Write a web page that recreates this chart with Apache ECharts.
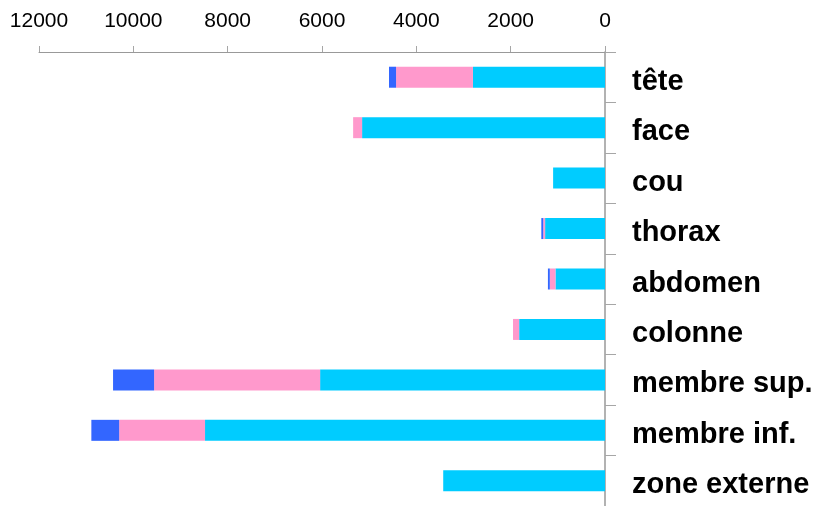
<!DOCTYPE html>
<html>
<head>
<meta charset="utf-8">
<script src="https://cdn.jsdelivr.net/npm/echarts@6/dist/echarts.min.js"></script>
<style>
  html, body { margin: 0; padding: 0; background: #fff; }
  #chart { width: 817px; height: 506px; }
</style>
</head>
<body>
<div id="chart"></div>
<script>
// Body regions, top to bottom
const categories = ['tête', 'face', 'cou', 'thorax', 'abdomen', 'colonne', 'membre sup.', 'membre inf.', 'zone externe'];

// Stacked segments, drawn from 0 outward (leftward)
const seriesCyan = [2800, 5150, 1100, 1270, 1050, 1820, 6040, 8480, 3430];
const seriesPink = [1630, 190, 0, 40, 120, 130, 3520, 1820, 0];
const seriesBlue = [150, 0, 0, 40, 40, 0, 870, 590, 0];

// Value axis ticks
const axisMin = 0;
const axisMax = 12000;
const axisStep = 2000;

const chart = echarts.init(document.getElementById('chart'), null, { renderer: 'canvas' });

const font = '"Liberation Sans", Arial, sans-serif';

function bar(name, data, color) {
  return {
    name: name,
    type: 'bar',
    stack: 'total',
    data: data,
    barWidth: 21,
    itemStyle: { color: color },
    emphasis: { disabled: true },
    silent: true
  };
}

chart.setOption({
  animation: false,
  grid: { left: 39, right: 212, top: 52, bottom: 0, containLabel: false },
  xAxis: {
    type: 'value',
    position: 'top',
    inverse: true,
    min: axisMin,
    max: axisMax,
    interval: axisStep,
    splitLine: { show: false },
    axisLine: { show: true, lineStyle: { color: '#999999', width: 1 } },
    axisTick: { show: true, length: 6, lineStyle: { color: '#A6A6A6', width: 1 } },
    axisLabel: {
      margin: 20,
      color: '#000',
      fontFamily: font,
      fontSize: 21,
      formatter: function (v) { return String(v); }
    }
  },
  yAxis: {
    type: 'category',
    position: 'right',
    inverse: true,
    data: categories,
    axisLine: { show: true, lineStyle: { color: '#999999', width: 1.5 } },
    axisTick: { show: true, length: 11, alignWithLabel: false, lineStyle: { color: '#A6A6A6', width: 1 } },
    axisLabel: {
      margin: 27,
      align: 'left',
      formatter: function (v) { return '{c|' + v + '}'; },
      rich: {
        c: {
          color: '#000',
          fontFamily: font,
          fontWeight: 'bold',
          fontSize: 29,
          padding: [9, 0, 0, 0]
        }
      }
    }
  },
  series: [
    bar('cyan', seriesCyan, '#00CCFF'),
    bar('pink', seriesPink, '#FF99CC'),
    bar('blue', seriesBlue, '#3366FF')
  ]
});
</script>
</body>
</html>
